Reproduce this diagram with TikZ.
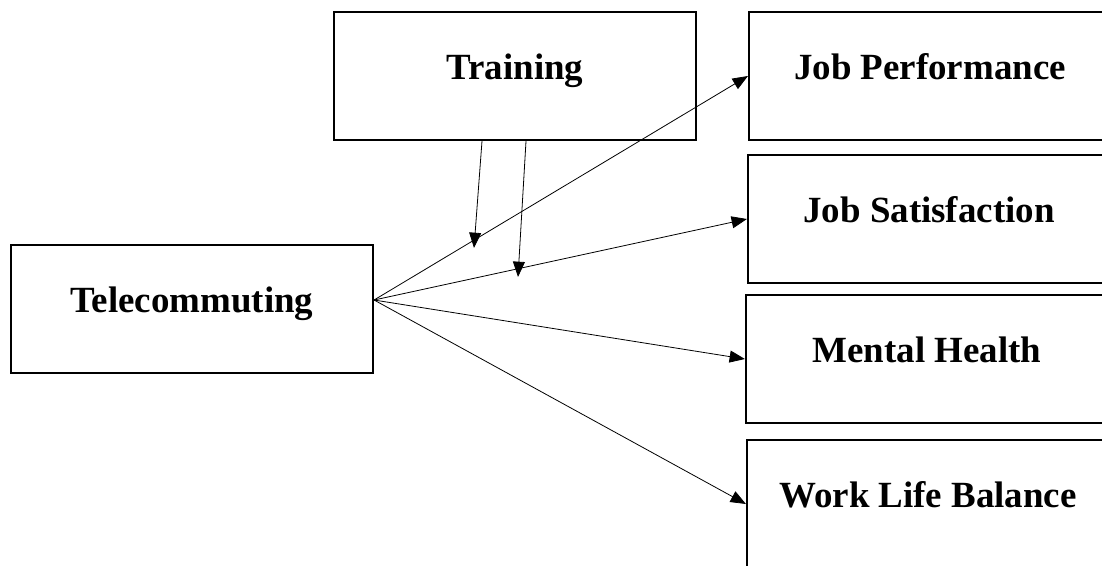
\documentclass[tikz,border=0pt]{standalone}
\usepackage{fontspec}
\setmainfont{Liberation Serif}
\usetikzlibrary{arrows.meta}

\begin{document}
\begin{tikzpicture}[x=0.75pt, y=-0.75pt,
  var/.style={draw, rectangle, line width=1.6pt, minimum width=271.5pt, minimum height=96pt,
    inner sep=0pt, font=\fontsize{27.7}{33}\selectfont\bfseries, text height=4.5pt, text depth=0pt},
  link/.style={-{Triangle[length=11.5pt,width=9pt]}, line width=0.6pt}]
 \useasboundingbox (0,0) rectangle (1102,565);
 \node (tc) [var] at (192,309) {Telecommuting};
 \node (tr) [var] at (515,76) {Training};
 \node (jp) [var] at (930,76) {Job Performance};
 \node (js) [var] at (929,219) {Job Satisfaction};
 \node (mh) [var] at (927,359) {Mental Health};
 \node (wlb) [var] at (928,504) {Work Life Balance};
 \coordinate (src) at ([yshift=6.75pt]tc.east);
 \coordinate (tr-a) at ([xshift=-24.75pt]tr.south);
 \coordinate (tr-b) at ([xshift=8.25pt]tr.south);
 \coordinate (mod-a) at (474,248);
 \coordinate (mod-b) at (518,277);
  \path[link]
  (src) edge (jp.west)
        edge (js.west)
        edge (mh.west)
        edge (wlb.west)
  (tr-a) edge (mod-a)
  (tr-b) edge (mod-b)
  ;
\end{tikzpicture}
\end{document}
